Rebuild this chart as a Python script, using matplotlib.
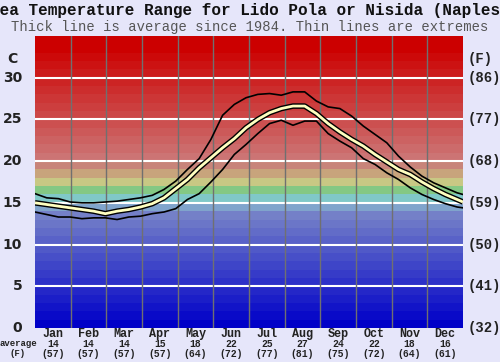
import numpy as np
import matplotlib
matplotlib.use("Agg")
import matplotlib.pyplot as plt
import matplotlib.transforms as mtransforms

# data (day of year -> deg C)
days = [0, 10, 20, 30, 40, 50, 60, 70, 80, 90, 100, 110, 120, 130, 140, 150, 160, 170, 180,
        190, 200, 210, 220, 230, 240, 250, 260, 270, 280, 290, 300, 310, 320, 330, 340, 350, 360, 365]
avg_temp = [15.0, 14.8, 14.6, 14.4, 14.2, 14.0, 13.7, 14.0, 14.2, 14.5, 14.9, 15.6, 16.7, 17.8,
            19.2, 20.4, 21.6, 22.7, 24.0, 25.0, 25.8, 26.3, 26.6, 26.6, 25.7, 24.5, 23.5, 22.6,
            21.8, 20.8, 19.9, 19.0, 18.4, 17.5, 16.7, 16.0, 15.4, 15.1]
max_temp = [16.1, 15.6, 15.5, 15.1, 15.0, 15.0, 15.1, 15.2, 15.4, 15.6, 15.9, 16.6, 17.6, 19.0,
            20.3, 22.6, 25.5, 26.8, 27.6, 28.0, 28.1, 27.9, 28.3, 28.3, 27.2, 26.5, 26.3, 25.4,
            24.2, 23.2, 22.2, 20.6, 19.3, 18.2, 17.4, 16.8, 16.2, 16.0]
min_temp = [13.9, 13.6, 13.3, 13.3, 13.1, 13.2, 13.2, 13.0, 13.3, 13.4, 13.7, 13.9, 14.3, 15.4,
            16.1, 17.5, 19.0, 20.8, 22.0, 23.3, 24.5, 24.9, 24.3, 24.8, 24.8, 23.3, 22.4, 21.6,
            20.3, 19.6, 18.6, 17.8, 16.8, 16.0, 15.4, 14.9, 14.5, 14.4]

months = ["Jan", "Feb", "Mar", "Apr", "May", "Jun", "Jul", "Aug", "Sep", "Oct", "Nov", "Dec"]
month_avg_c = [14, 14, 14, 15, 18, 22, 25, 27, 24, 22, 18, 16]
month_avg_f = [57, 57, 57, 57, 64, 72, 77, 81, 75, 72, 64, 61]

c_ticks = [0, 5, 10, 15, 20, 25, 30]
f_ticks = [32, 41, 50, 59, 68, 77, 86]

bg = "#e6e6fa"
mono = "Liberation Mono"
ink = "#222222"

fig = plt.figure(figsize=(5, 3.62), dpi=100, facecolor=bg)
ax = fig.add_axes([0.07, 0.094, 0.856, 0.8066])

# colour bands, one per degree
def band_color(t):
    special = {19: "#c8847a", 18: "#c8a47c", 17: "#c8c884", 16: "#84c884",
               15: "#80c8c8", 14: "#80a4cc"}
    if t in special:
        return special[t]
    if t >= 20:
        g = max(0.0, 0x74 * (33 - t) / 13) / 255
        return (0.8, g, g)
    f = t / 13
    return (0x74 * f / 255, 0x80 * f / 255, 0xc8 / 255)

for t in range(35):
    ax.axhspan(t, t + 1, color=band_color(t), lw=0, zorder=0)

for t in c_ticks[1:]:
    ax.axhline(t, color="white", lw=1.5, zorder=1)

month_edges = np.linspace(0, 365, 13)
for x in month_edges[1:-1]:
    ax.axvline(x, color="#707070", lw=1, zorder=1)

ax.plot(days, max_temp, color="black", lw=1.2, zorder=3)
ax.plot(days, min_temp, color="black", lw=1.2, zorder=3)
ax.plot(days, avg_temp, color="black", lw=4, zorder=4, solid_capstyle="butt")
ax.plot(days, avg_temp, color="#ffffc0", lw=2, zorder=5, solid_capstyle="butt")

ax.set_xlim(0, 365)
ax.set_ylim(0, 35)
ax.set_xticks([])
ax.set_yticks([])
for s in ax.spines.values():
    s.set_visible(False)

# left C labels and right F labels
for c, f in zip(c_ticks, f_ticks):
    ax.text(-0.03, c / 35, str(c), transform=ax.transAxes, ha="right", va="center",
            fontsize=10, fontweight="bold", color=ink)
    ax.text(1.01, c / 35, "(%d)" % f, transform=ax.transAxes, ha="left", va="center",
            fontsize=10, fontweight="bold", family=mono, color=ink)
ax.text(-0.04, 32.2 / 35, "C", transform=ax.transAxes, ha="right", va="center",
        fontsize=10, fontweight="bold", color=ink)
ax.text(1.01, 32.2 / 35, "(F)", transform=ax.transAxes, ha="left", va="center",
        fontsize=10, fontweight="bold", family=mono, color=ink)

# month labels
trans = mtransforms.blended_transform_factory(ax.transData, fig.transFigure)
mids = (month_edges[:-1] + month_edges[1:]) / 2
for m, c, f, x in zip(months, month_avg_c, month_avg_f, mids):
    ax.text(x, 1 - 334 / 362, m, transform=trans, ha="center", va="center",
            fontsize=8.5, fontweight="bold", family=mono, color=ink)
    ax.text(x, 1 - 344 / 362, str(c), transform=trans, ha="center", va="center",
            fontsize=7, fontweight="bold", family=mono, color=ink)
    ax.text(x, 1 - 354 / 362, "(%d)" % f, transform=trans, ha="center", va="center",
            fontsize=7, fontweight="bold", family=mono, color=ink)
fig.text(18 / 500, 1 - 344 / 362, "average", ha="center", va="center",
         fontsize=6.5, fontweight="bold", family=mono, color=ink)
fig.text(18 / 500, 1 - 354 / 362, "(F)", ha="center", va="center",
         fontsize=6.5, fontweight="bold", family=mono, color=ink)

fig.text(0.5, 1 - 11 / 362, "Sea Temperature Range for Lido Pola or Nisida (Naples)",
         ha="center", va="center", fontsize=11.5, fontweight="bold", family=mono, color="#111111")
fig.text(0.5, 1 - 27 / 362, "Thick line is average since 1984. Thin lines are extremes",
         ha="center", va="center", fontsize=10, family=mono, color="#555555")

fig.savefig("out.png", dpi=100, facecolor=bg)
